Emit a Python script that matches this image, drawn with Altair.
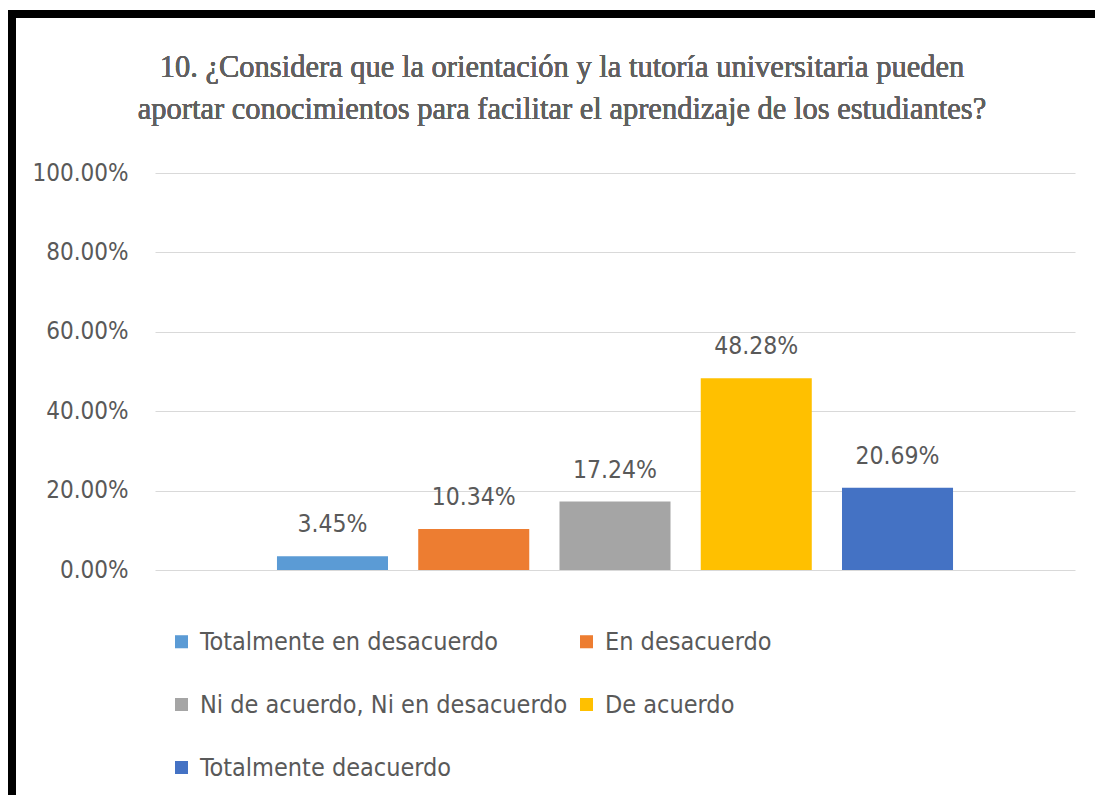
import altair as alt
import pandas as pd

categories = [
    "Totalmente en desacuerdo",
    "En desacuerdo",
    "Ni de acuerdo, Ni en desacuerdo",
    "De acuerdo",
    "Totalmente deacuerdo",
]
values = [0.0345, 0.1034, 0.1724, 0.4828, 0.2069]
colors = ["#5B9BD5", "#ED7D31", "#A5A5A5", "#FFC000", "#4472C4"]
y_ticks = [0, 0.2, 0.4, 0.6, 0.8, 1.0]
title_lines = [
    "10. ¿Considera que la orientación y la tutoría universitaria pueden",
    "aportar conocimientos para facilitar el aprendizaje de los estudiantes?",
]

df = pd.DataFrame({"cat": categories, "val": values})

SANS = "Liberation Sans Narrow, DejaVu Sans Condensed, Liberation Sans, sans-serif"
GREY = "#595959"

base = alt.Chart(df).encode(
    x=alt.X(
        "cat:N",
        sort=categories,
        axis=None,
        scale=alt.Scale(paddingInner=0.214, paddingOuter=0.8635),
    ),
    y=alt.Y(
        "val:Q",
        scale=alt.Scale(domain=[0, 1]),
        axis=alt.Axis(
            values=y_ticks,
            format=".2%",
            title=None,
            domain=False,
            ticks=False,
            labelFont=SANS,
            labelFontSize=24,
            labelColor=GREY,
            labelPadding=27,
            gridColor="#D9D9D9",
            gridWidth=1,
        ),
    ),
)

bars = base.mark_bar().encode(
    color=alt.Color(
        "cat:N",
        sort=categories,
        scale=alt.Scale(domain=categories, range=colors),
        legend=alt.Legend(
            title=None,
            orient="none",
            legendX=14,
            legendY=456,
            columns=2,
            direction="horizontal",
            symbolType="square",
            symbolSize=170,
            symbolStrokeWidth=0,
            labelFont=SANS,
            labelFontSize=25,
            labelColor=GREY,
            labelOffset=6,
            labelLimit=0,
            columnPadding=6,
            rowPadding=37,
            padding=0,
        ),
    )
)

labels = base.mark_text(
    baseline="alphabetic", dy=-24, font=SANS, fontSize=24.5, color=GREY
).encode(text=alt.Text("val:Q", format=".2%"))

title = alt.Chart(df).mark_text(
    text=title_lines,
    font="Liberation Serif",
    fontSize=30.5,
    fontWeight="normal",
    color="#606060",
    lineHeight=42,
    align="center",
    baseline="alphabetic",
).encode(x=alt.value(407), y=alt.value(-96))

border_left = alt.Chart(df).mark_rect(color="black").encode(
    x=alt.value(-147), x2=alt.value(-139), y=alt.value(-163), y2=alt.value(630)
)
border_top = alt.Chart(df).mark_rect(color="black").encode(
    x=alt.value(-147), x2=alt.value(960), y=alt.value(-163), y2=alt.value(-155)
)

chart = (
    alt.layer(border_left, border_top, title, bars, labels)
    .properties(
        width=920,
        height=397,
        padding={"left": 147, "top": 165, "right": 20, "bottom": 225},
        autosize=alt.AutoSizeParams(type="none"),
        background="white",
    )
    .configure_view(stroke=None, strokeWidth=0)
)

chart.save("out.html", embed_options={"renderer": "svg", "actions": False})
